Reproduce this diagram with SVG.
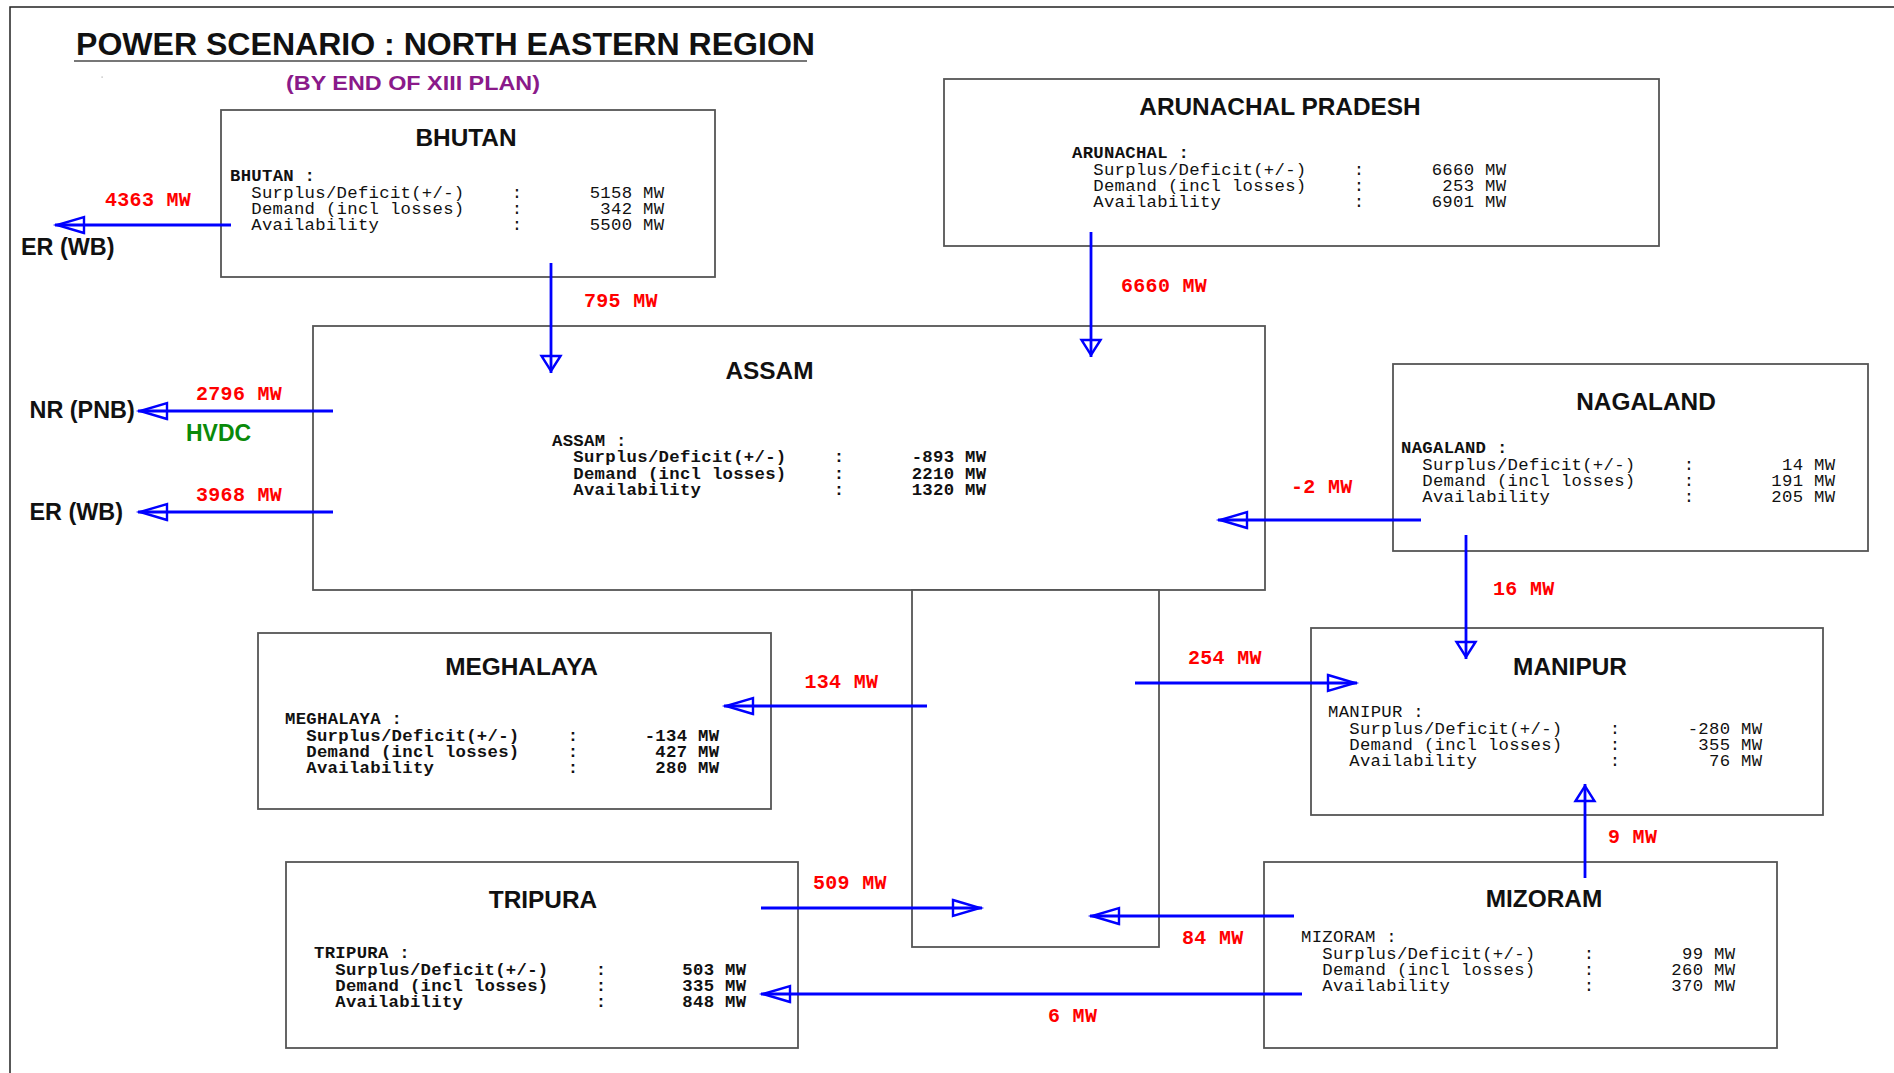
<svg xmlns="http://www.w3.org/2000/svg" width="1894" height="1073" viewBox="0 0 1894 1073">
  <style>
    .frame { stroke:#222; stroke-width:1.5; fill:none; }
    .box { fill:#fff; stroke:#555; stroke-width:1.8; }
    .head { font-family:"Liberation Sans", Arial, sans-serif; font-weight:bold; font-size:24.4px; fill:#111; text-anchor:middle; }
    .data { font-family:"Liberation Mono", "Courier New", monospace; font-size:17.3px; letter-spacing:0.29px; fill:#111; }
    .b { font-weight:bold; }
    .colon { text-anchor:middle; }
    .val { text-anchor:end; }
    .flow { font-family:"Liberation Mono", "Courier New", monospace; font-weight:bold; font-size:20px; letter-spacing:0.3px; fill:#ff0000; }
    .ext { font-family:"Liberation Sans", Arial, sans-serif; font-weight:bold; font-size:23.4px; fill:#111; }
    .wire { stroke:#0000ff; stroke-width:2.8; fill:none; }
    .tip { stroke:#0000ff; stroke-width:2.4; fill:none; stroke-linejoin:miter; }
  </style>
  <defs>
    <!-- open triangular heads: one for horizontal runs, one for vertical runs -->
    <marker id="head-h" markerUnits="userSpaceOnUse" orient="auto" overflow="visible" refX="0" refY="0" markerWidth="1" markerHeight="1">
      <path class="tip" d="M-29,-8 L-2,0 L-29,8 Z"/>
    </marker>
    <marker id="head-v" markerUnits="userSpaceOnUse" orient="auto" overflow="visible" refX="0" refY="0" markerWidth="1" markerHeight="1">
      <path class="tip" d="M-17,-9.5 L-2,0 L-17,9.5 Z"/>
    </marker>
  </defs>

  <rect width="1894" height="1073" fill="#fff"/>
  <path class="frame" d="M10,1073 V7 H1894"/>

  <!-- heading -->
  <g id="title">
    <text x="76" y="55" font-family="Liberation Sans, Arial, sans-serif" font-weight="bold" font-size="31" fill="#111" textLength="739" lengthAdjust="spacingAndGlyphs">POWER SCENARIO : NORTH EASTERN REGION</text>
    <line x1="74" y1="61" x2="807" y2="61" stroke="#777" stroke-width="2"/>
    <rect x="101.5" y="76.5" width="1.2" height="1.2" fill="#aaa"/>
    <text x="286" y="90" font-family="Liberation Sans, Arial, sans-serif" font-weight="bold" font-size="21" fill="#8a1a8a" textLength="254" lengthAdjust="spacingAndGlyphs">(BY END OF XIII PLAN)</text>
  </g>

  <!-- states -->
  <g id="bhutan">
    <rect class="box" x="221" y="110" width="494" height="167"/>
    <text class="head" x="466" y="146">BHUTAN</text>
    <text class="data b" x="230" y="181">BHUTAN :</text>
    <text class="data" x="251.3" y="197.5">Surplus/Deficit(+/-)</text><text class="data colon" x="517" y="197.5">:</text><text class="data val" x="664.3" y="197.5">5158 MW</text>
    <text class="data" x="251.3" y="214">Demand (incl losses)</text><text class="data colon" x="517" y="214">:</text><text class="data val" x="664.3" y="214">342 MW</text>
    <text class="data" x="251.3" y="230">Availability</text><text class="data colon" x="517" y="230">:</text><text class="data val" x="664.3" y="230">5500 MW</text>
  </g>

  <g id="arunachal">
    <rect class="box" x="944" y="79" width="715" height="167"/>
    <text class="head" x="1280" y="115">ARUNACHAL PRADESH</text>
    <text class="data b" x="1072" y="158">ARUNACHAL :</text>
    <text class="data" x="1093.3" y="174.5">Surplus/Deficit(+/-)</text><text class="data colon" x="1359" y="174.5">:</text><text class="data val" x="1506.3" y="174.5">6660 MW</text>
    <text class="data" x="1093.3" y="191">Demand (incl losses)</text><text class="data colon" x="1359" y="191">:</text><text class="data val" x="1506.3" y="191">253 MW</text>
    <text class="data" x="1093.3" y="207">Availability</text><text class="data colon" x="1359" y="207">:</text><text class="data val" x="1506.3" y="207">6901 MW</text>
  </g>

  <g id="assam">
    <rect class="box" x="313" y="326" width="952" height="264"/>
    <text class="head" x="769.5" y="379">ASSAM</text>
    <text class="data b" x="552" y="446">ASSAM :</text>
    <text class="data b" x="573.3" y="462">Surplus/Deficit(+/-)</text><text class="data b colon" x="839" y="462">:</text><text class="data b val" x="986.3" y="462">-893 MW</text>
    <text class="data b" x="573.3" y="478.5">Demand (incl losses)</text><text class="data b colon" x="839" y="478.5">:</text><text class="data b val" x="986.3" y="478.5">2210 MW</text>
    <text class="data b" x="573.3" y="495">Availability</text><text class="data b colon" x="839" y="495">:</text><text class="data b val" x="986.3" y="495">1320 MW</text>
  </g>

  <g id="assam-south">
    <rect class="box" x="912" y="590" width="247" height="357"/>
  </g>

  <g id="nagaland">
    <rect class="box" x="1393" y="364" width="475" height="187"/>
    <text class="head" x="1646" y="410">NAGALAND</text>
    <text class="data b" x="1401" y="453">NAGALAND :</text>
    <text class="data" x="1422.3" y="469.5">Surplus/Deficit(+/-)</text><text class="data colon" x="1689" y="469.5">:</text><text class="data val" x="1835.3" y="469.5">14 MW</text>
    <text class="data" x="1422.3" y="486">Demand (incl losses)</text><text class="data colon" x="1689" y="486">:</text><text class="data val" x="1835.3" y="486">191 MW</text>
    <text class="data" x="1422.3" y="502">Availability</text><text class="data colon" x="1689" y="502">:</text><text class="data val" x="1835.3" y="502">205 MW</text>
  </g>

  <g id="meghalaya">
    <rect class="box" x="258" y="633" width="513" height="176"/>
    <text class="head" x="521.5" y="675">MEGHALAYA</text>
    <text class="data b" x="285" y="724">MEGHALAYA :</text>
    <text class="data b" x="306.3" y="740.5">Surplus/Deficit(+/-)</text><text class="data b colon" x="573" y="740.5">:</text><text class="data b val" x="719.3" y="740.5">-134 MW</text>
    <text class="data b" x="306.3" y="757">Demand (incl losses)</text><text class="data b colon" x="573" y="757">:</text><text class="data b val" x="719.3" y="757">427 MW</text>
    <text class="data b" x="306.3" y="773">Availability</text><text class="data b colon" x="573" y="773">:</text><text class="data b val" x="719.3" y="773">280 MW</text>
  </g>

  <g id="manipur">
    <rect class="box" x="1311" y="628" width="512" height="187"/>
    <text class="head" x="1570" y="675">MANIPUR</text>
    <text class="data" x="1328" y="717">MANIPUR :</text>
    <text class="data" x="1349.3" y="733.5">Surplus/Deficit(+/-)</text><text class="data colon" x="1615" y="733.5">:</text><text class="data val" x="1762.3" y="733.5">-280 MW</text>
    <text class="data" x="1349.3" y="750">Demand (incl losses)</text><text class="data colon" x="1615" y="750">:</text><text class="data val" x="1762.3" y="750">355 MW</text>
    <text class="data" x="1349.3" y="766">Availability</text><text class="data colon" x="1615" y="766">:</text><text class="data val" x="1762.3" y="766">76 MW</text>
  </g>

  <g id="tripura">
    <rect class="box" x="286" y="862" width="512" height="186"/>
    <text class="head" x="543" y="908">TRIPURA</text>
    <text class="data b" x="314" y="958">TRIPURA :</text>
    <text class="data b" x="335.3" y="974.5">Surplus/Deficit(+/-)</text><text class="data b colon" x="601" y="974.5">:</text><text class="data b val" x="746.3" y="974.5">503 MW</text>
    <text class="data b" x="335.3" y="991">Demand (incl losses)</text><text class="data b colon" x="601" y="991">:</text><text class="data b val" x="746.3" y="991">335 MW</text>
    <text class="data b" x="335.3" y="1007">Availability</text><text class="data b colon" x="601" y="1007">:</text><text class="data b val" x="746.3" y="1007">848 MW</text>
  </g>

  <g id="mizoram">
    <rect class="box" x="1264" y="862" width="513" height="186"/>
    <text class="head" x="1544" y="907">MIZORAM</text>
    <text class="data" x="1301" y="942">MIZORAM :</text>
    <text class="data" x="1322.3" y="958.5">Surplus/Deficit(+/-)</text><text class="data colon" x="1589" y="958.5">:</text><text class="data val" x="1735.3" y="958.5">99 MW</text>
    <text class="data" x="1322.3" y="975">Demand (incl losses)</text><text class="data colon" x="1589" y="975">:</text><text class="data val" x="1735.3" y="975">260 MW</text>
    <text class="data" x="1322.3" y="991">Availability</text><text class="data colon" x="1589" y="991">:</text><text class="data val" x="1735.3" y="991">370 MW</text>
  </g>

  <!-- neighbouring regions -->
  <g id="er-wb-north"><text class="ext" x="21" y="255">ER (WB)</text></g>
  <g id="nr-pnb"><text class="ext" x="29.5" y="418">NR (PNB)</text></g>
  <g id="er-wb-south"><text class="ext" x="29.5" y="520">ER (WB)</text></g>

  <!-- power flows -->
  <g id="connectors">
    <path class="wire" d="M231,225 H55" marker-end="url(#head-h)"/>
    <path class="wire" d="M551,263 V373" marker-end="url(#head-v)"/>
    <path class="wire" d="M1091,232 V357" marker-end="url(#head-v)"/>
    <path class="wire" d="M333,411 H138" marker-end="url(#head-h)"/>
    <path class="wire" d="M333,512 H138" marker-end="url(#head-h)"/>
    <path class="wire" d="M1421,520 H1218" marker-end="url(#head-h)"/>
    <path class="wire" d="M1466,535 V659" marker-end="url(#head-v)"/>
    <path class="wire" d="M1135,683 H1357" marker-end="url(#head-h)"/>
    <path class="wire" d="M927,706 H724" marker-end="url(#head-h)"/>
    <path class="wire" d="M1585,878 V784" marker-end="url(#head-v)"/>
    <path class="wire" d="M761,908 H982" marker-end="url(#head-h)"/>
    <path class="wire" d="M1294,916 H1090" marker-end="url(#head-h)"/>
    <path class="wire" d="M1302,994 H761" marker-end="url(#head-h)"/>

    <text class="flow" x="105" y="206">4363 MW</text>
    <text class="flow" x="584" y="307">795 MW</text>
    <text class="flow" x="1121" y="292">6660 MW</text>
    <text class="flow" x="196" y="400">2796 MW</text>
    <text x="186" y="441" font-family="Liberation Sans, Arial, sans-serif" font-weight="bold" font-size="23" fill="#0a8a0a">HVDC</text>
    <text class="flow" x="196" y="501">3968 MW</text>
    <text class="flow" x="1291" y="493">-2 MW</text>
    <text class="flow" x="1493" y="595">16 MW</text>
    <text class="flow" x="1188" y="664">254 MW</text>
    <text class="flow" x="804.5" y="688">134 MW</text>
    <text class="flow" x="1608" y="843">9 MW</text>
    <text class="flow" x="813" y="889">509 MW</text>
    <text class="flow" x="1182" y="944">84 MW</text>
    <text class="flow" x="1048" y="1022">6 MW</text>
  </g>
</svg>
